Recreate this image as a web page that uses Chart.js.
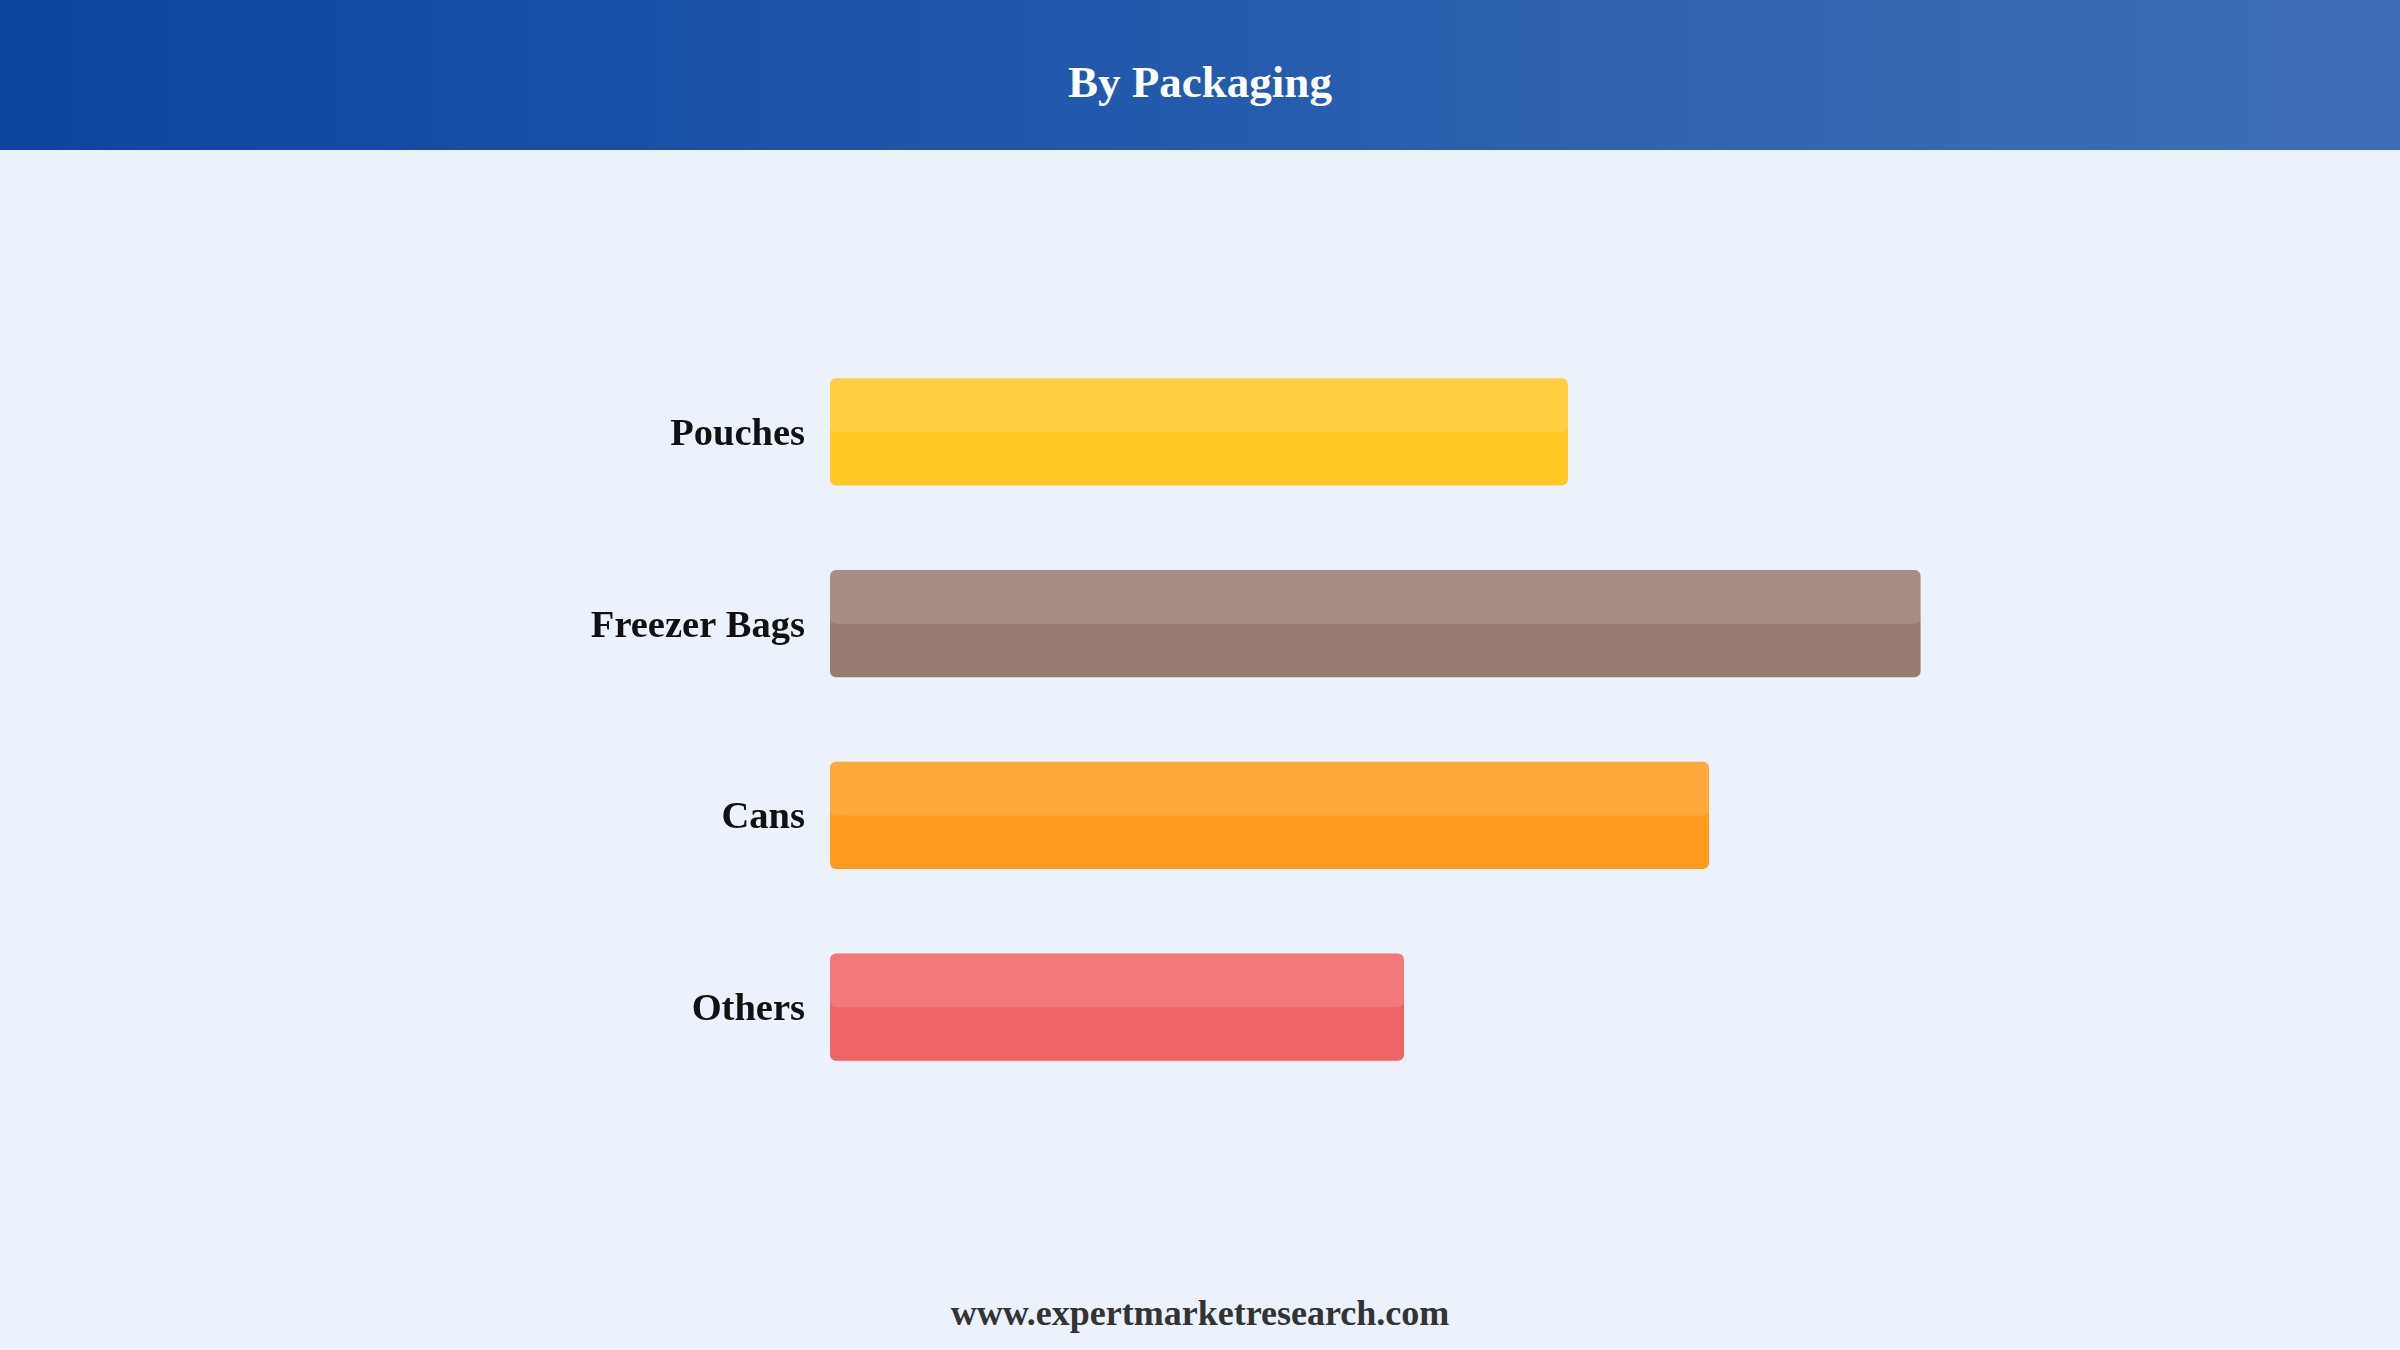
<!DOCTYPE html>
<html>
<head>
<meta charset="utf-8">
<script src="https://cdn.jsdelivr.net/npm/chart.js@4.4.1/dist/chart.umd.min.js"></script>
<style>
  html, body { margin: 0; padding: 0; }
  body {
    width: 2400px; height: 1350px; overflow: hidden;
    background: #ebf2fc;
    font-family: "Liberation Serif", "Times New Roman", serif;
    position: relative;
  }
  .header {
    position: absolute; left: 0; top: 0; width: 2400px; height: 150px;
    background: linear-gradient(90deg, #0c44a0 0%, #1f56aa 40%, #3568b3 80%, #3d6db6 100%);
    color: #fff; font-weight: bold; font-size: 45px;
    display: flex; align-items: center; justify-content: center;
    padding-top: 13px; box-sizing: border-box;
  }
  .chart-box {
    position: absolute; left: 0; top: 150px; width: 2400px; height: 1100px;
  }
  .footer {
    position: absolute; left: 0; top: 1290px; width: 2400px; text-align: center;
    font-weight: bold; font-size: 36px; color: #333; line-height: 46px;
  }
</style>
</head>
<body>
<div class="header">By Packaging</div>
<div class="chart-box"><canvas id="packaging-chart"></canvas></div>
<div class="footer">www.expertmarketresearch.com</div>

<script>
// ============= DATA =============
const categories = ['Pouches', 'Freezer Bags', 'Cans', 'Others'];
const shareValues = [22.5, 33.25, 26.8, 17.5];
const barColors = ['#ffc822', '#997b72', '#ff9b1e', '#ef6464'];

// lighter top half on every bar
const topShinePlugin = {
  id: 'topShine',
  afterDatasetsDraw(chart) {
    const ctx = chart.ctx;
    const meta = chart.getDatasetMeta(0);
    meta.data.forEach(bar => {
      const left = Math.min(bar.base, bar.x);
      const width = Math.abs(bar.x - bar.base);
      const top = bar.y - bar.height / 2;
      ctx.save();
      ctx.fillStyle = 'rgba(255,255,255,0.14)';
      ctx.beginPath();
      ctx.roundRect(left, top, width, bar.height / 2, 6);
      ctx.fill();
      ctx.restore();
    });
  }
};

function initializeChart() {
  const ctx = document.getElementById('packaging-chart').getContext('2d');

  return new Chart(ctx, {
    type: 'bar',
    data: {
      labels: categories,
      datasets: [{
        data: shareValues,
        backgroundColor: barColors,
        borderWidth: 0,
        borderRadius: 6,
        borderSkipped: false,
        categoryPercentage: 0.56,
        barPercentage: 1
      }]
    },
    options: {
      indexAxis: 'y',
      responsive: true,
      maintainAspectRatio: false,
      animation: false,
      layout: {
        padding: { top: 186, bottom: 147, left: 0, right: 258 }
      },
      plugins: {
        legend: { display: false },
        tooltip: { enabled: false }
      },
      scales: {
        x: {
          display: false,
          min: 0,
          max: 40
        },
        y: {
          grid: { display: false, drawTicks: false },
          border: { display: false },
          afterFit: scale => { scale.width = 830; },
          ticks: {
            padding: 25,
            labelOffset: 3,
            color: '#111',
            font: { family: '"Liberation Serif", "Times New Roman", serif', size: 38.5, weight: 'bold' }
          }
        }
      }
    },
    plugins: [topShinePlugin]
  });
}

initializeChart();
</script>
</body>
</html>
